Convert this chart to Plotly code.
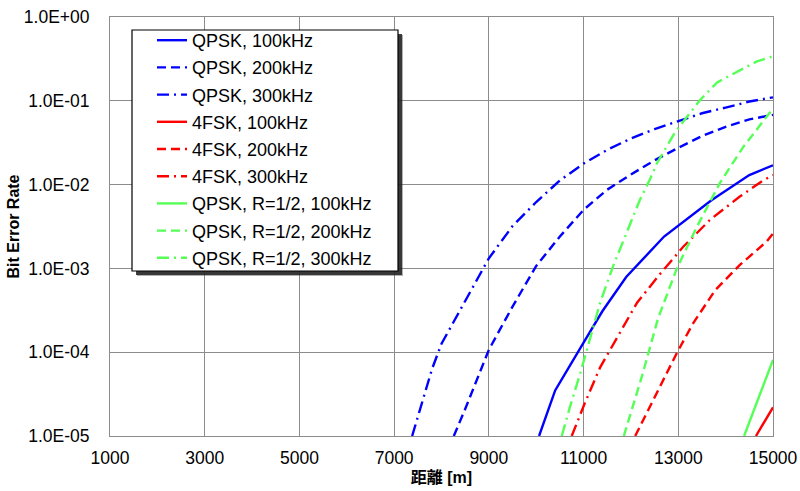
import plotly.graph_objects as go

# Distance [m] and bit error rate for each modulation / bandwidth case
qpsk_100_x = [10060, 10400, 11000, 11400, 11900, 12700, 13700, 14500, 15000]
qpsk_100_y = [1.0e-5, 3.5e-5, 1.3e-4, 3.1e-4, 7.9e-4, 2.4e-3, 6.5e-3, 1.3e-2, 1.7e-2]

qpsk_200_x = [8260, 8500, 9000, 9500, 10000, 10500, 11000, 11500, 12000, 12500,
              13000, 13500, 14000, 14500, 15000]
qpsk_200_y = [1.0e-5, 2.1e-5, 1.07e-4, 3.5e-4, 1.07e-3, 2.4e-3, 5.0e-3, 8.7e-3,
              1.32e-2, 1.95e-2, 2.75e-2, 3.8e-2, 4.9e-2, 6.0e-2, 6.8e-2]

qpsk_300_x = [7380, 7600, 7800, 8000, 8500, 9000, 9500, 10000, 10500, 11000, 11500,
              12000, 12500, 13000, 13500, 14000, 14500, 15000]
qpsk_300_y = [1.0e-5, 2.7e-5, 6.3e-5, 1.26e-4, 4.1e-4, 1.32e-3, 3.2e-3, 6.2e-3, 1.12e-2,
              1.78e-2, 2.6e-2, 3.55e-2, 4.6e-2, 5.75e-2, 7.1e-2, 8.3e-2, 9.8e-2, 1.1e-1]

fsk_100_x = [14640, 15000]
fsk_100_y = [1.0e-5, 2.2e-5]

fsk_200_x = [12090, 12470, 12970, 13310, 13780, 14300, 14870, 15000]
fsk_200_y = [1.0e-5, 2.7e-5, 9.8e-5, 2.2e-4, 5.5e-4, 1.1e-3, 2.1e-3, 2.6e-3]

fsk_300_x = [10750, 11030, 11350, 11730, 12130, 12610, 13100, 13670, 14300, 14770, 15000]
fsk_300_y = [1.0e-5, 2.5e-5, 6.6e-5, 1.6e-4, 3.9e-4, 8.5e-4, 1.8e-3, 3.8e-3,
             7.2e-3, 1.1e-2, 1.3e-2]

qpsk_r12_100_x = [14390, 15000]
qpsk_r12_100_y = [1.0e-5, 8.1e-5]

qpsk_r12_200_x = [11850, 12230, 12570, 12970, 13400, 13880, 14370, 14940, 15000]
qpsk_r12_200_y = [1.0e-5, 5.1e-5, 2.5e-4, 1.0e-3, 3.2e-3, 1.05e-2, 2.8e-2, 7.4e-2, 8.1e-2]

qpsk_r12_300_x = [10540, 10710, 10930, 11140, 11350, 11620, 11940, 12190, 12400,
                  12550, 12930, 13460, 13820, 14300, 14660, 15000]
qpsk_r12_300_y = [1.0e-5, 2.2e-5, 5.6e-5, 1.5e-4, 3.9e-4, 1.05e-3, 2.9e-3, 6.6e-3,
                  1.15e-2, 1.8e-2, 4.2e-2, 1.02e-1, 1.66e-1, 2.3e-1, 2.95e-1, 3.4e-1]

series_names = ["QPSK, 100kHz", "QPSK, 200kHz", "QPSK, 300kHz",
                "4FSK, 100kHz", "4FSK, 200kHz", "4FSK, 300kHz",
                "QPSK, R=1/2, 100kHz", "QPSK, R=1/2, 200kHz", "QPSK, R=1/2, 300kHz"]
series_x = [qpsk_100_x, qpsk_200_x, qpsk_300_x, fsk_100_x, fsk_200_x, fsk_300_x,
            qpsk_r12_100_x, qpsk_r12_200_x, qpsk_r12_300_x]
series_y = [qpsk_100_y, qpsk_200_y, qpsk_300_y, fsk_100_y, fsk_200_y, fsk_300_y,
            qpsk_r12_100_y, qpsk_r12_200_y, qpsk_r12_300_y]

x_ticks = [1000, 3000, 5000, 7000, 9000, 11000, 13000, 15000]
y_tick_vals = [1e-5, 1e-4, 1e-3, 1e-2, 1e-1, 1e0]
y_tick_text = ["1.0E-05", "1.0E-04", "1.0E-03", "1.0E-02", "1.0E-01", "1.0E+00"]

colors = ["#0000FF"] * 3 + ["#FF0000"] * 3 + ["#55FF55"] * 3
dashes = ["solid", "9px,5px", "12px,5px,2px,5px"] * 3

FONT = "Liberation Sans, Arial, Noto Sans CJK JP, sans-serif"
W, H = 800, 491
M_L, M_R, M_T, M_B = 110, 27, 17, 55
PW, PH = W - M_L - M_R, H - M_T - M_B


def px_to_paper_x(px):
    return (px - M_L) / PW


def px_to_paper_y(py):
    return (H - M_B - py) / PH


fig = go.Figure()
for name, xs, ys, c, d in zip(series_names, series_x, series_y, colors, dashes):
    fig.add_trace(go.Scatter(
        x=xs, y=ys, name=name, mode="lines", legendgroup=name,
        line=dict(color=c, width=2.4, dash=d),
    ))

# Legend frame with its drop shadow
box_l, box_t, box_r, box_b = 132, 30, 398, 271
shapes = []
for off, op in [(5, 0.35), (4, 0.85)]:
    shapes.append(dict(
        type="rect", xref="paper", yref="paper", layer="above",
        x0=px_to_paper_x(box_l + off), x1=px_to_paper_x(box_r + off),
        y0=px_to_paper_y(box_b + off), y1=px_to_paper_y(box_t + off),
        fillcolor="#222222", opacity=op, line=dict(width=0),
    ))
shapes.append(dict(
    type="rect", xref="paper", yref="paper", layer="above",
    x0=px_to_paper_x(box_l), x1=px_to_paper_x(box_r),
    y0=px_to_paper_y(box_b), y1=px_to_paper_y(box_t),
    fillcolor="white", line=dict(color="black", width=1.2),
))

fig.update_layout(
    width=W, height=H,
    margin=dict(l=M_L, r=M_R, t=M_T, b=M_B, autoexpand=False),
    paper_bgcolor="white", plot_bgcolor="white",
    font=dict(family=FONT, size=17.5, color="black"),
    shapes=shapes,
    legend=dict(
        x=px_to_paper_x(152), y=px_to_paper_y(22), xanchor="left", yanchor="top",
        bgcolor="rgba(0,0,0,0)", borderwidth=0,
        font=dict(family=FONT, size=18, color="black"),
        tracegroupgap=0.8, itemwidth=30, traceorder="grouped",
    ),
    showlegend=True,
)

fig.update_xaxes(
    range=[1000, 15000], tickvals=x_ticks, ticktext=[str(v) for v in x_ticks],
    showgrid=True, gridcolor="#8c8c8c", gridwidth=1,
    showline=True, linecolor="#8c8c8c", linewidth=1, mirror=True,
    zeroline=False, ticks="", ticklabelstandoff=6, automargin=False,
    tickfont=dict(family=FONT, size=17.5),
    title=dict(text="<b>距離 [m]</b>", standoff=4,
               font=dict(family="Liberation Sans, Noto Sans CJK JP, sans-serif", size=16)),
)
fig.update_yaxes(
    type="log", range=[-5, 0], tickvals=y_tick_vals, ticktext=y_tick_text,
    showgrid=True, gridcolor="#8c8c8c", gridwidth=1,
    showline=True, linecolor="#8c8c8c", linewidth=1, mirror=True,
    zeroline=False, ticks="", ticklabelstandoff=16, automargin=False,
    tickfont=dict(family=FONT, size=17.5),
    title=dict(text="<b>Bit Error Rate</b>", standoff=0,
               font=dict(family=FONT, size=16)),
)

fig.write_html("out.html")
